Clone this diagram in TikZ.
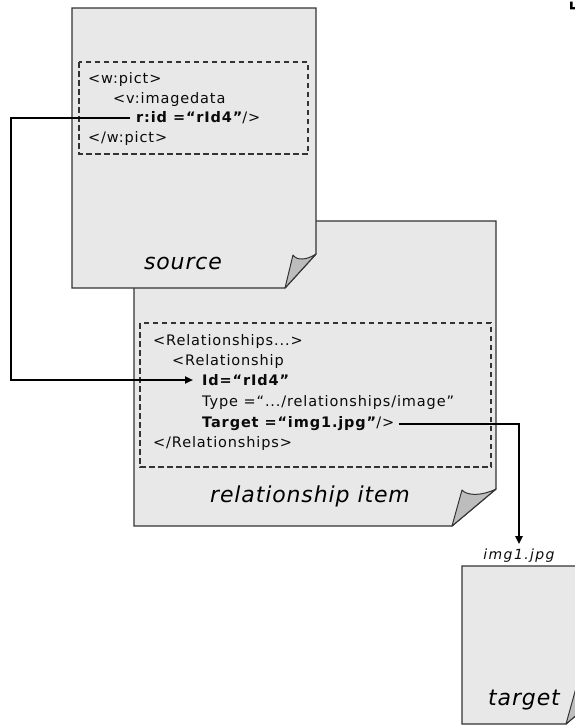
\documentclass[tikz,border=0pt]{standalone}
\usepackage{fontspec}
\setmainfont{DejaVu Sans}
\usetikzlibrary{arrows.meta,calc}
\definecolor{pagefill}{HTML}{E8E8E8}
\definecolor{pageline}{HTML}{333333}
\definecolor{flapfill}{HTML}{BDBDBD}
\definecolor{dashline}{HTML}{333333}
\definecolor{codetext}{HTML}{0A0A0A}
\begin{document}
\begin{tikzpicture}[x=1pt,y=-1pt,
  page/.style={fill=pagefill,draw=pageline,line width=1.3pt,line join=miter},
  flap/.style={fill=flapfill,draw=pageline,line width=1pt,line join=round},
  codebox/.style={draw=dashline,line width=1.1pt,dash pattern=on 5.5pt off 3.5pt},
  code/.style={anchor=base west,inner sep=0pt,text=codetext,font=\fontsize{14.5}{16}\selectfont\addfontfeature{LetterSpace=6}},
  pagelabel/.style={anchor=base,inner sep=0pt,text=black,font=\fontsize{22}{24}\selectfont\itshape\addfontfeature{LetterSpace=4}},
  filelabel/.style={anchor=base,inner sep=0pt,text=codetext,font=\fontsize{14}{15}\selectfont\itshape\addfontfeature{LetterSpace=10}},
  conn/.style={line width=2pt,draw=black,-{Triangle[length=8pt,width=7pt]}},
]
\useasboundingbox (0,0) rectangle (575,726);

% relationship item page
\path[page] (134,221) -- (496,221) -- (496,489) -- (452,526) -- (134,526) -- cycle;
\path[flap] (452,526) -- (462,490) .. controls (467,496) and (482,496) .. (496,489) -- cycle;

% source page
\path[page] (72,8) -- (316,8) -- (316,254) -- (285,288) -- (72,288) -- cycle;
\path[flap] (285,288) -- (293,255) .. controls (297,261) and (307,260) .. (316,254) -- cycle;

% target page
\path[page] (462,566) -- (609,566) -- (609,687) -- (566,724) -- (462,724) -- cycle;
\path[flap] (566,724) -- (576,688) .. controls (581,694) and (596,694) .. (609,687) -- cycle;

% dashed boxes
\draw[codebox] (79,62) rectangle (308,154);
\draw[codebox] (140,323) rectangle (491,467);

% source code
\node[code] (s1) at (88,83) {<w:pict>};
\node[code] (s2) at (113,103) {<v:imagedata};
\node[code] (rid) at (136,122) {{\bfseries r:id =“rId4”}/>};
\node[code] (s4) at (88,142) {</w:pict>};

% relationship code
\node[code] (r1) at (153,345) {<Relationships...>};
\node[code] (r2) at (172,365) {<Relationship};
\node[code] (idn) at (202,385) {\bfseries Id=“rId4”};
\node[code] (r4) at (202,406) {Type =“.../relationships/image”};
\node[code] (tgt) at (202,427) {{\bfseries Target =“img1.jpg”}/>};
\node[code] (r6) at (153,447) {</Relationships>};

% labels
\node[pagelabel] (srclabel) at (183,269) {source};
\node[pagelabel] (rellabel) at (310,502) {relationship item};
\node[pagelabel] (tgtlabel) at (524,705) {target};
\node[filelabel] (imgl) at (519,559) {img1.jpg};

% connectors
\coordinate (c1) at (11,0);
\coordinate (a1) at ($(rid.base west)+(-6,-4.5)$);
\coordinate (e1) at ($(idn.base west)+(-9,-5)$);
\draw[conn] (a1) -- (a1 -| c1) |- (e1);
\coordinate (a2) at ($(tgt.base east)+(5,-3)$);
\draw[conn] (a2) -| ([yshift=4pt]imgl.north);

% partial mark at top right
\fill[black] (570,1.5) -- (572.5,1.5) -- (572.5,7) -- (575,7) -- (575,9.3) -- (570,9.3) -- cycle;
\end{tikzpicture}
\end{document}
